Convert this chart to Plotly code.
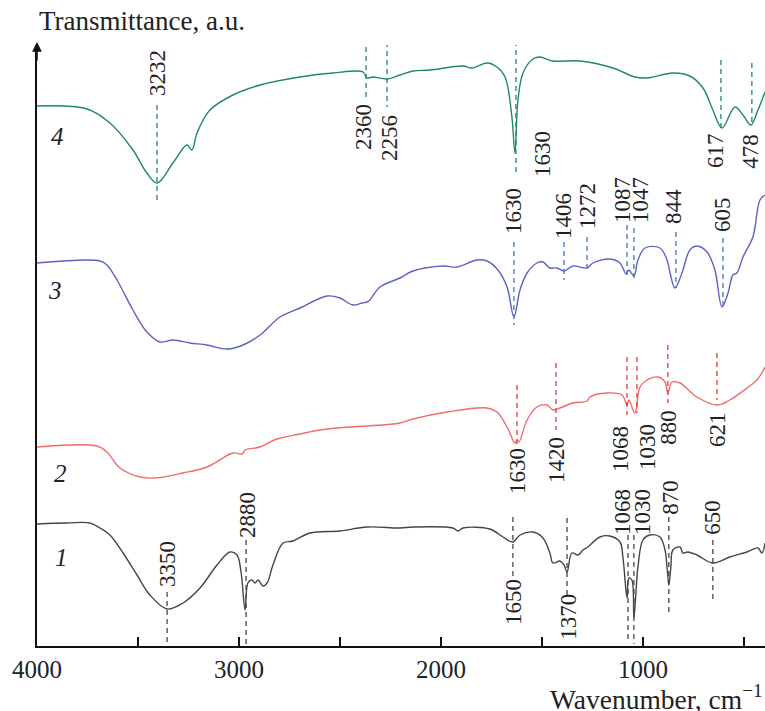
import plotly.graph_objects as go

# ---------------- data (wavenumber, cm-1 ; transmittance, a.u.) ----------------
wn4 = [4000, 3752, 3639, 3525, 3456, 3406, 3327, 3258, 3233, 3208, 3144, 3030, 2896, 2698, 2535, 2386,
       2366, 2337, 2267, 2203, 2139, 2055, 1891, 1847, 1772, 1723, 1683, 1649, 1634, 1619, 1594, 1545,
       1510, 1446, 1312, 1149, 1040, 980, 852, 768, 703, 654, 609, 545, 505, 466, 431, 396]
t4 = [540, 537, 523, 496, 473, 463, 483, 501, 496, 513, 536, 551, 561, 569, 573, 574,
      568, 569, 567, 571, 575, 576, 580, 578, 583, 579, 569, 529, 493, 546, 573, 587,
      589, 585, 585, 578, 569, 568, 573, 570, 558, 536, 518, 539, 531, 521, 536, 554]

wn3 = [4000, 3688, 3654, 3604, 3525, 3456, 3391, 3327, 3243, 3158, 3059, 2980, 2896, 2797, 2698, 2564,
       2500, 2436, 2391, 2366, 2352, 2302, 2203, 2139, 1990, 1921, 1822, 1772, 1718, 1673, 1639, 1609,
       1574, 1525, 1495, 1461, 1426, 1391, 1347, 1277, 1248, 1164, 1114, 1084, 1070, 1045, 1025, 990,
       916, 881, 867, 842, 807, 768, 733, 683, 644, 609, 579, 555, 535, 505, 456, 421, 396]
t3 = [383, 385, 381, 366, 336, 314, 304, 306, 303, 301, 297, 301, 311, 329, 338, 350,
      348, 341, 343, 344, 346, 359, 368, 375, 380, 379, 386, 385, 376, 359, 329, 356,
      373, 383, 384, 378, 378, 375, 380, 378, 383, 387, 383, 372, 376, 370, 386, 398,
      398, 386, 374, 358, 373, 396, 400, 394, 376, 339, 353, 371, 373, 389, 409, 446, 451]

wn2 = [4000, 3703, 3654, 3589, 3490, 3416, 3277, 3158, 3030, 2985, 2970, 2896, 2812, 2698, 2599, 2451,
       2366, 2203, 2139, 1970, 1772, 1723, 1673, 1634, 1624, 1614, 1574, 1525, 1475, 1446, 1411, 1347,
       1277, 1263, 1178, 1104, 1079, 1070, 1040, 1015, 980, 926, 891, 877, 857, 817, 733, 634,
       570, 485, 436, 396]
t2 = [199, 200, 194, 178, 169, 168, 173, 179, 193, 192, 196, 199, 207, 212, 216, 219,
      220, 223, 227, 234, 238, 234, 219, 203, 206, 204, 226, 239, 241, 236, 238, 243,
      245, 249, 253, 251, 241, 246, 233, 259, 266, 269, 264, 253, 264, 263, 249, 241,
      246, 258, 266, 279]

wn1 = [4000, 3851, 3738, 3688, 3639, 3574, 3505, 3441, 3356, 3277, 3193, 3109, 3045, 3010, 2990, 2970,
       2956, 2936, 2921, 2906, 2881, 2861, 2832, 2782, 2733, 2649, 2500, 2366, 2203, 2139, 1941, 1916,
       1891, 1758, 1693, 1644, 1609, 1545, 1495, 1461, 1446, 1411, 1391, 1376, 1352, 1322, 1297, 1273,
       1213, 1164, 1114, 1099, 1079, 1070, 1055, 1045, 1025, 1000, 966, 916, 891, 881, 872, 862,
       852, 817, 802, 778, 733, 654, 570, 485, 431, 411, 396]
t1 = [122, 123, 123, 118, 111, 93, 71, 51, 37, 43, 58, 81, 94, 91, 74, 36,
      63, 66, 63, 66, 60, 63, 81, 103, 105, 113, 115, 119, 118, 119, 118, 115,
      118, 117, 109, 104, 111, 114, 108, 93, 83, 85, 81, 74, 93, 91, 96, 99,
      109, 110, 104, 88, 48, 68, 66, 28, 79, 106, 111, 109, 96, 79, 61, 79,
      96, 99, 93, 94, 91, 83, 89, 94, 98, 93, 103]

# peak marks: label text, line position, line top/bottom, label position
pk4_text = ["3232", "2360", "2256", "1630", "617", "478"]
pk4_x = [3406, 2371, 2267, 1629, 614, 461]
pk4_top = [541, 608, 604, 614, 586, 583]
pk4_bot = [446, 546, 539, 473, 518, 521]
pk4_lx = [3406, 2386, 2258, 1500, 644, 471]
pk4_ly = [573, 519, 508, 492, 496, 495]

pk3_text = ["1630", "1406", "1272", "1087", "1047", "844", "605"]
pk3_x = [1639, 1391, 1277, 1079, 1045, 837, 604]
pk3_top = [404, 404, 409, 421, 418, 414, 408]
pk3_bot = [321, 366, 378, 371, 366, 358, 339]
pk3_lx = [1644, 1396, 1277, 1104, 1015, 852, 609]
pk3_ly = [435, 430, 440, 446, 446, 440, 432]

pk2_text = ["1630", "1420", "1068", "1030", "880", "621"]
pk2_x = [1624, 1431, 1079, 1030, 877, 634]
pk2_top = [261, 283, 289, 289, 301, 293]
pk2_bot = [199, 216, 231, 233, 243, 246]
pk2_lx = [1624, 1431, 1114, 980, 877, 634]
pk2_ly = [175, 186, 197, 199, 219, 217]

pk1_text = ["3350", "2880", "1650", "1370", "1068", "1030", "870", "650"]
pk1_x = [3356, 2965, 1644, 1376, 1074, 1045, 872, 654]
pk1_top = [54, 106, 129, 128, 111, 111, 129, 106]
pk1_bot = [0, 0, 68, 51, 4, 2, 34, 43]
pk1_lx = [3356, 2960, 1644, 1372, 1104, 1005, 867, 659]
pk1_ly = [82, 131, 44, 29, 134, 134, 149, 129]

curve_names = ["4", "3", "2", "1"]
name_x = [3900, 3910, 3885, 3880]
name_y = [510, 356, 173, 89]

xticks = [4000, 3500, 3000, 2500, 2000, 1500, 1000, 500]
xtick_text = ["4000", "", "3000", "", "2000", "", "1000", ""]

# ---------------- figure ----------------
FONT = "Liberation Serif, Times New Roman, serif"
fig = go.Figure()

series = [
    (wn4, t4, "#1e8c5c", "#1e8c5c", pk4_text, pk4_x, pk4_top, pk4_bot, pk4_lx, pk4_ly),
    (wn3, t3, "#5b63c4", "#3f72cc", pk3_text, pk3_x, pk3_top, pk3_bot, pk3_lx, pk3_ly),
    (wn2, t2, "#f26a6a", "#e63a3a", pk2_text, pk2_x, pk2_top, pk2_bot, pk2_lx, pk2_ly),
    (wn1, t1, "#454545", "#454545", pk1_text, pk1_x, pk1_top, pk1_bot, pk1_lx, pk1_ly),
]

annotations = []
for (wx, ty, col, dcol, ptxt, px, ptop, pbot, plx, ply) in series:
    fig.add_trace(go.Scatter(x=wx, y=ty, mode="lines", line=dict(color=col, width=1.4),
                             line_shape="spline", showlegend=False, hoverinfo="skip"))
    for i in range(len(ptxt)):
        fig.add_trace(go.Scatter(x=[px[i], px[i]], y=[ptop[i], pbot[i]], mode="lines",
                                 line=dict(color=dcol, width=1.3, dash="5px,4px"),
                                 showlegend=False, hoverinfo="skip"))
        annotations.append(dict(x=plx[i], y=ply[i], xref="x", yref="y", text=ptxt[i],
                                textangle=-90, showarrow=False,
                                font=dict(family=FONT, size=23, color="#222")))

for i, nm in enumerate(curve_names):
    annotations.append(dict(x=name_x[i], y=name_y[i], xref="x", yref="y", text="<i>" + nm + "</i>",
                            showarrow=False, font=dict(family=FONT, size=25, color="#222")))

annotations.append(dict(x=0.0, y=1.04, xref="paper", yref="paper", text="Transmittance, a.u.",
                        xanchor="left", yanchor="middle", showarrow=False,
                        font=dict(family=FONT, size=27, color="#222")))
annotations.append(dict(x=1.0, y=-0.085, xref="paper", yref="paper",
                        text="Wavenumber, cm<sup>\u22121</sup>",
                        xanchor="right", yanchor="middle", showarrow=False,
                        font=dict(family=FONT, size=27.5, color="#222")))
annotations.append(dict(x=0, y=1.005, xref="paper", yref="paper", text="", showarrow=True,
                        ax=0, ay=20, arrowhead=2, arrowsize=1.3, arrowwidth=1.5, arrowcolor="#111"))

fig.update_layout(
    width=765, height=711,
    margin=dict(l=37, r=0, t=45, b=65, autoexpand=False),
    paper_bgcolor="white", plot_bgcolor="white",
    annotations=annotations,
    xaxis=dict(range=[4000, 396], showgrid=False, zeroline=False, showline=True, automargin=False,
               linecolor="#111", linewidth=1.5, ticks="inside", ticklen=9, tickwidth=1.5,
               tickcolor="#111", tickvals=xticks, ticktext=xtick_text,
               tickfont=dict(family=FONT, size=25, color="#222")),
    yaxis=dict(range=[0, 601], showgrid=False, zeroline=False, showline=True, automargin=False,
               linecolor="#111", linewidth=1.5, showticklabels=False, ticks=""),
)

fig.write_html("out.html", config={"displayModeBar": False},
               post_script="document.body.style.margin='0';document.body.style.padding='0';")
